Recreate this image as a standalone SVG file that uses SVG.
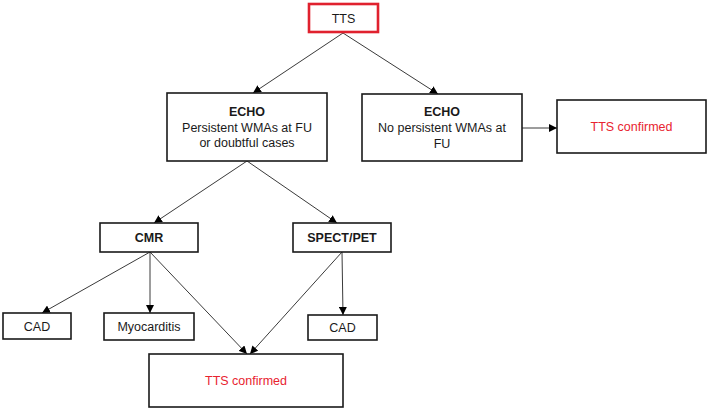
<svg xmlns="http://www.w3.org/2000/svg" width="708" height="410" viewBox="0 0 708 410">
<style>
.box{fill:#fff;stroke:#1a1a1a;stroke-width:1.6}
.red{fill:#fff;stroke:#e0212e;stroke-width:2.6}
.t{font-family:"Liberation Sans",Arial,sans-serif;font-size:12.5px;fill:#1a1a1a;text-anchor:middle}
.b{font-weight:bold}
.r{fill:#e8232f}
.c{stroke:#3a3a3a;stroke-width:1;fill:none;marker-end:url(#ah)}
</style>
<defs>
<marker id="ah" markerUnits="userSpaceOnUse" markerWidth="9" markerHeight="8" refX="8" refY="4" orient="auto">
<path d="M0,0 L8,4 L0,8 z" fill="#000"/>
</marker>
</defs>
<g id="connectors">
<line class="c" x1="343" y1="33" x2="253" y2="93"/>
<line class="c" x1="343" y1="33" x2="438" y2="94"/>
<line class="c" x1="522" y1="128" x2="557" y2="128"/>
<line class="c" x1="247" y1="161" x2="154" y2="223"/>
<line class="c" x1="247" y1="161" x2="337" y2="223"/>
<line class="c" x1="150" y1="252" x2="42" y2="313"/>
<line class="c" x1="150" y1="252" x2="150" y2="313"/>
<line class="c" x1="150" y1="252" x2="247" y2="354"/>
<line class="c" x1="342" y1="252" x2="250" y2="354"/>
<line class="c" x1="342" y1="252" x2="343" y2="315"/>
</g>
<g id="tts">
<rect class="red" x="309" y="4" width="69" height="28"/>
<text class="t" x="343.5" y="22.5">TTS</text>
</g>
<g id="echo-left">
<rect class="box" x="167" y="93" width="160" height="68"/>
<text class="t b" x="247" y="116">ECHO</text>
<text class="t" x="247" y="131.5">Persistent WMAs at FU</text>
<text class="t" x="247" y="147">or doubtful cases</text>
</g>
<g id="echo-right">
<rect class="box" x="362" y="94" width="160" height="67"/>
<text class="t b" x="442" y="116">ECHO</text>
<text class="t" x="442" y="132">No persistent WMAs at</text>
<text class="t" x="442" y="148">FU</text>
</g>
<g id="tts-confirmed-right">
<rect class="box" x="557" y="100" width="149" height="53"/>
<text class="t r" x="631.5" y="131">TTS confirmed</text>
</g>
<g id="cmr">
<rect class="box" x="100" y="223" width="98" height="29"/>
<text class="t b" x="149" y="242">CMR</text>
</g>
<g id="spect">
<rect class="box" x="293" y="223" width="98" height="29"/>
<text class="t b" x="342" y="242">SPECT/PET</text>
</g>
<g id="cad-left">
<rect class="box" x="3" y="313" width="68" height="26"/>
<text class="t" x="37" y="330.5">CAD</text>
</g>
<g id="myocarditis">
<rect class="box" x="104" y="313" width="90" height="27"/>
<text class="t" x="149" y="331">Myocarditis</text>
</g>
<g id="cad-right">
<rect class="box" x="308" y="315" width="69" height="25"/>
<text class="t" x="342.5" y="332">CAD</text>
</g>
<g id="tts-confirmed-bottom">
<rect class="box" x="149" y="354" width="194" height="53"/>
<text class="t r" x="246" y="385">TTS confirmed</text>
</g>
</svg>
